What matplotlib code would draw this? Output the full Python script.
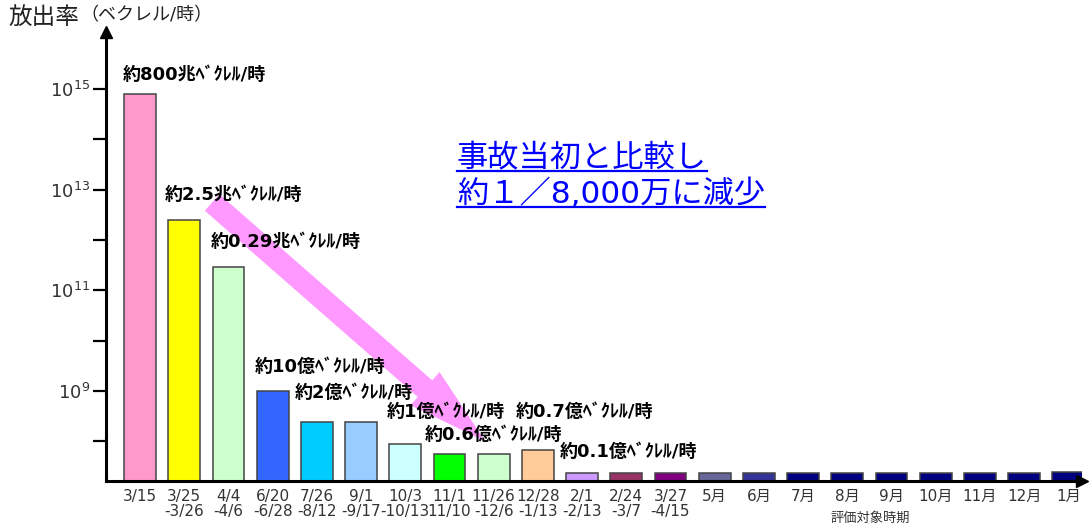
"""
Release rate of radioactive material per period (log scale bar chart).
"""
import numpy as np
import matplotlib
matplotlib.use('Agg')
import matplotlib.pyplot as plt
from matplotlib.patches import FancyArrow
from matplotlib.lines import Line2D
from matplotlib.transforms import IdentityTransform
from matplotlib.ticker import FixedLocator, NullFormatter

# wide latin digits from DejaVu, Japanese from Noto CJK
plt.rcParams['font.family'] = ['DejaVu Sans', 'Noto Sans CJK JP']

# Evaluation periods (x tick labels)
periods = ['3/15', '3/25\n-3/26', '4/4\n-4/6', '6/20\n-6/28', '7/26\n-8/12',
           '9/1\n-9/17', '10/3\n-10/13', '11/1\n11/10', '11/26\n-12/6',
           '12/28\n-1/13', '2/1\n-2/13', '2/24\n-3/7', '3/27\n-4/15',
           '5月', '6月', '7月', '8月', '9月', '10月', '11月', '12月', '1月']
# Release rate (Bq/h)
rates = [8.0e14, 2.5e12, 2.9e11, 1.0e9, 2.4e8, 2.4e8, 0.9e8, 5.5e7, 5.5e7,
         6.7e7, 2.3e7, 2.3e7, 2.3e7, 2.3e7, 2.3e7, 2.3e7, 2.3e7, 2.3e7,
         2.3e7, 2.3e7, 2.3e7, 2.4e7]
bar_colors = ['#FF99CC', '#FFFF00', '#CCFFCC', '#3366FF', '#00CCFF', '#99CCFF',
              '#CCFFFF', '#00FF00', '#CCFFCC', '#FFCC99', '#CC99FF', '#993366',
              '#800080', '#666699', '#333399', '#000080', '#000080', '#000080',
              '#000080', '#000080', '#000080', '#000080']

# Value labels written above some of the bars
label_bars = [0, 1, 2, 3, 4, 6, 7, 9, 10]
label_texts = ['約800兆ﾍﾞｸﾚﾙ/時', '約2.5兆ﾍﾞｸﾚﾙ/時', '約0.29兆ﾍﾞｸﾚﾙ/時',
               '約10億ﾍﾞｸﾚﾙ/時', '約2億ﾍﾞｸﾚﾙ/時', '約1億ﾍﾞｸﾚﾙ/時',
               '約0.6億ﾍﾞｸﾚﾙ/時', '約0.7億ﾍﾞｸﾚﾙ/時', '約0.1億ﾍﾞｸﾚﾙ/時']
# offset of each label from the top-left corner of its bar (pixels)
label_offsets = [(-1, 19), (-4, 25), (-2, 25), (-2, 24), (-6, 29),
                 (-3, 32), (-9, 19), (-6, 38), (-6, 21)]

major_ticks = [1e9, 1e11, 1e13, 1e15]
major_labels = [r'$\mathregular{10^{9}}$', r'$\mathregular{10^{11}}$',
                r'$\mathregular{10^{13}}$', r'$\mathregular{10^{15}}$']
minor_ticks = [1e8, 1e10, 1e12, 1e14]

message = ['事故当初と比較し', '約１／8,000万に減少']

BAR_WIDTH = 0.72
TEXT_COLOR = '#333333'


def main():
    fig = plt.figure(figsize=(10.89, 5.28), dpi=100)
    ax = fig.add_axes([106 / 1089, 47 / 528, 976 / 1089, 449 / 528])

    x = np.arange(len(rates))
    ax.bar(x, rates, width=BAR_WIDTH, color=bar_colors, edgecolor='#444444',
           linewidth=1.1, zorder=1)

    ax.set_yscale('log')
    ax.set_xlim(-0.77, 21.31)
    ax.set_ylim(10 ** 7.211, 10 ** 16.137)

    ax.set_yticks(major_ticks, major_labels)
    ax.yaxis.set_minor_locator(FixedLocator(minor_ticks))
    ax.yaxis.set_minor_formatter(NullFormatter())
    ax.tick_params(axis='y', which='both', direction='out', length=9.5,
                   width=1.6, color='k', labelsize=13, labelcolor=TEXT_COLOR, pad=2)

    ax.set_xticks(x, periods)
    ax.tick_params(axis='x', length=0, pad=6, labelsize=11, labelcolor=TEXT_COLOR)
    for lbl in ax.get_xticklabels():
        lbl.set_linespacing(0.95)
        lbl.set_verticalalignment('top')

    for side in ['top', 'right']:
        ax.spines[side].set_visible(False)
    for side in ['left', 'bottom']:
        ax.spines[side].set_linewidth(2.2)
    ax.plot([0], [1], marker='^', ms=8, color='k', transform=ax.transAxes, clip_on=False)
    ax.plot([1], [0], marker='>', ms=8, color='k', transform=ax.transAxes, clip_on=False)

    # value labels
    for i, txt, (dx, dy) in zip(label_bars, label_texts, label_offsets):
        ax.annotate(txt, xy=(i - BAR_WIDTH / 2, rates[i]), xytext=(dx, dy),
                    textcoords='offset pixels', ha='left', va='center',
                    fontsize=13, fontweight='bold', color='k', zorder=3)

    # big pink arrow showing the decrease (drawn in pixels so it keeps its shape)
    tail = ax.transData.transform((1.63, 5.6e12))
    tip = ax.transData.transform((7.81, 1.0e8))
    arrow = FancyArrow(tail[0], tail[1], tip[0] - tail[0], tip[1] - tail[1],
                       width=22, head_width=44, head_length=80,
                       length_includes_head=True, color='#FF99FF', lw=0,
                       transform=IdentityTransform(), zorder=2, clip_on=False)
    ax.add_artist(arrow)

    # titles
    fig.text(8 / 1089, 1 - 6 / 528, '放出率', fontsize=17, color='#222222',
             ha='left', va='top')
    fig.text(80 / 1089, 1 - 6 / 528, '（ベクレル/時）', fontsize=13,
             color='#222222', ha='left', va='top')
    fig.text(870 / 1089, 1 - 518 / 528, '評価対象時期', fontsize=9.5,
             color=TEXT_COLOR, ha='center', va='center')

    # blue underlined message
    msg_texts = []
    for k, line in enumerate(message):
        t = fig.text(457 / 1089, 1 - (167 + 36 * k) / 528, line, fontsize=22.5,
                     color='#0000FF', ha='left', va='baseline')
        msg_texts.append(t)

    fig.canvas.draw()
    for t in msg_texts:
        bb = t.get_window_extent()
        fig.add_artist(Line2D([bb.x0, bb.x1], [bb.y0 + 2, bb.y0 + 2],
                              color='#0000FF', lw=1.6, transform=IdentityTransform()))

    fig.savefig('out.png', dpi=100)


if __name__ == '__main__':
    main()
